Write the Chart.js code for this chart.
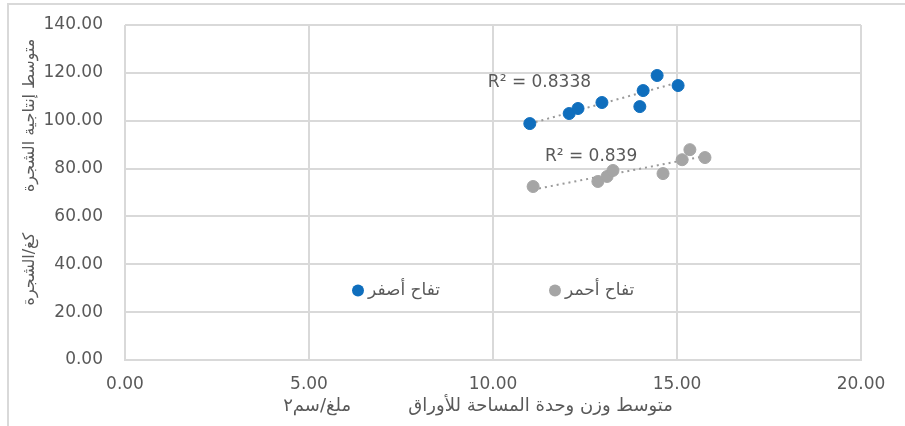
<!DOCTYPE html>
<html>
<head>
<meta charset="utf-8">
<script src="https://cdn.jsdelivr.net/npm/chart.js"></script>
<style>
  body { margin: 0; background: #fff; }
  #wrap { width: 905px; height: 426px; }
</style>
</head>
<body>
<div id="wrap"><canvas id="scatter-chart"></canvas></div>
<script>
// DATA
var seriesNames = ['تفاح أصفر', 'تفاح أحمر'];
var yellowX = [11.00, 12.07, 12.31, 12.96, 13.99, 14.08, 14.46, 15.03];
var yellowY = [98.8, 103.0, 105.1, 107.6, 105.9, 112.6, 118.9, 114.7];
var redX = [11.09, 12.85, 13.10, 13.26, 14.62, 15.14, 15.35, 15.76];
var redY = [72.5, 74.6, 76.7, 79.2, 77.9, 83.7, 87.9, 84.6];
var r2Labels = ['R² = 0.8338', 'R² = 0.839'];
var xTitle = 'متوسط وزن وحدة المساحة للأوراق          ملغ/سم٢';
var yTitle = 'متوسط إنتاجية الشجرة        كغ/الشجرة';

var blue = '#0f6ebd';
var grey = '#a5a5a5';
var textGrey = '#595959';
var gridGrey = '#d9d9d9';

function toPoints(xs, ys) {
  return xs.map(function(x, i) { return { x: x, y: ys[i] }; });
}

// least squares line from min x to max x (like the excel trendline)
function trend(xs, ys) {
  var n = xs.length, sx = 0, sy = 0, sxy = 0, sxx = 0;
  for (var i = 0; i < n; i++) {
    sx += xs[i]; sy += ys[i]; sxy += xs[i] * ys[i]; sxx += xs[i] * xs[i];
  }
  var b = (n * sxy - sx * sy) / (n * sxx - sx * sx);
  var a = (sy - b * sx) / n;
  var x0 = Math.min.apply(null, xs), x1 = Math.max.apply(null, xs);
  return [{ x: x0, y: a + b * x0 }, { x: x1, y: a + b * x1 }];
}

// frame, titles, r2 labels and legend
var extras = {
  id: 'extras',
  beforeDraw: function(chart) {
    var c = chart.ctx;
    c.save();
    c.strokeStyle = gridGrey;
    c.lineWidth = 2;
    c.beginPath();
    c.moveTo(8, 426);
    c.lineTo(8, 4);
    c.lineTo(905, 4);
    c.stroke();
    c.restore();
  },
  afterDraw: function(chart) {
    var c = chart.ctx;
    var xs = chart.scales.x, ys = chart.scales.y;
    c.save();
    c.fillStyle = textGrey;
    c.font = '17px "DejaVu Sans"';
    c.textBaseline = 'middle';

    // r2
    c.textAlign = 'left';
    c.fillText(r2Labels[0], xs.getPixelForValue(9.86), ys.getPixelForValue(116));
    c.fillText(r2Labels[1], xs.getPixelForValue(11.41), ys.getPixelForValue(85));

    // legend
    var ly = ys.getPixelForValue(29);
    c.font = '17px "DejaVu Sans"';
    c.fillStyle = blue;
    c.beginPath(); c.arc(358, ly, 6, 0, Math.PI * 2); c.fill();
    c.fillStyle = grey;
    c.beginPath(); c.arc(555, ly, 6, 0, Math.PI * 2); c.fill();
    c.fillStyle = textGrey;
    c.fillText(seriesNames[0], 368, ly);
    c.fillText(seriesNames[1], 565, ly);

    // axis titles
    c.font = '18px "DejaVu Sans"';
    c.textAlign = 'center';
    c.fillText(xTitle, 478, 406);
    c.font = '16px "DejaVu Sans"';
    c.translate(30, 172);
    c.rotate(-Math.PI / 2);
    c.fillText(yTitle, 0, 0);
    c.restore();
  }
};

var ctx = document.getElementById('scatter-chart');
var chart = new Chart(ctx, {
  type: 'scatter',
  data: {
    datasets: [
      {
        label: seriesNames[0],
        data: toPoints(yellowX, yellowY),
        backgroundColor: blue,
        borderColor: blue,
        pointRadius: 6,
        pointHoverRadius: 6,
        order: 1
      },
      {
        label: seriesNames[1],
        data: toPoints(redX, redY),
        backgroundColor: grey,
        borderColor: grey,
        pointRadius: 6,
        pointHoverRadius: 6,
        order: 1
      },
      {
        type: 'line',
        data: trend(yellowX, yellowY),
        borderColor: '#9a9a9a',
        borderWidth: 2,
        borderDash: [2, 4],
        pointRadius: 0,
        fill: false,
        order: 2
      },
      {
        type: 'line',
        data: trend(redX, redY),
        borderColor: '#9a9a9a',
        borderWidth: 2,
        borderDash: [2, 4],
        pointRadius: 0,
        fill: false,
        order: 2
      }
    ]
  },
  options: {
    responsive: true,
    maintainAspectRatio: false,
    animation: false,
    layout: { padding: { left: 8, top: 25, right: 44, bottom: 0 } },
    plugins: {
      legend: { display: false },
      tooltip: { enabled: false }
    },
    scales: {
      x: {
        type: 'linear',
        min: 0,
        max: 20,
        afterFit: function(scale) { scale.height = 66; },
        grid: { color: gridGrey, lineWidth: 2, drawTicks: false },
        border: { color: gridGrey, width: 2 },
        ticks: {
          stepSize: 5,
          padding: 14,
          color: textGrey,
          font: { family: 'DejaVu Sans', size: 17 },
          callback: function(v) { return v.toFixed(2); }
        }
      },
      y: {
        min: 0,
        max: 140,
        afterFit: function(scale) {
          scale.width = 117;
          scale.paddingTop = 10;
          scale.paddingBottom = 10;
        },
        grid: { color: gridGrey, lineWidth: 2, drawTicks: false },
        border: { display: false },
        ticks: {
          stepSize: 20,
          padding: 22,
          color: textGrey,
          font: { family: 'DejaVu Sans', size: 17 },
          callback: function(v) { return v.toFixed(2); }
        }
      }
    }
  },
  plugins: [extras]
});
</script>
</body>
</html>
